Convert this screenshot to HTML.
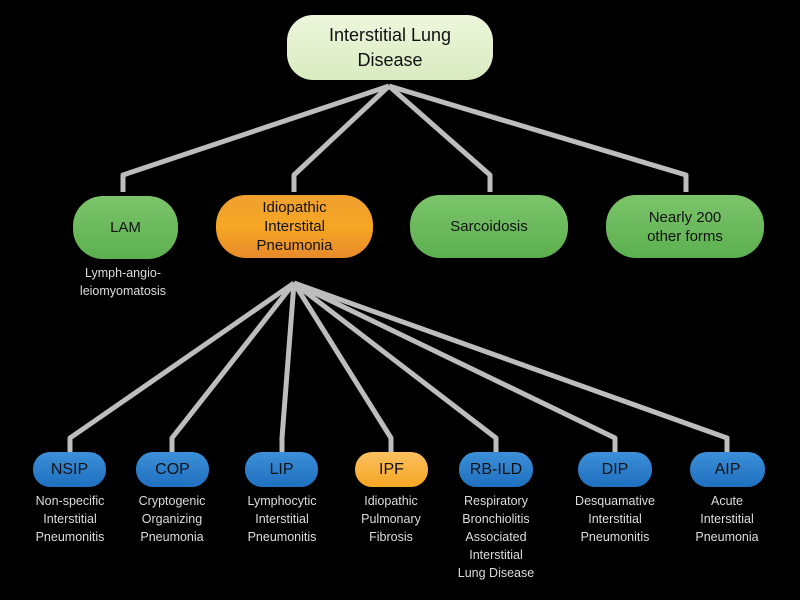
<!DOCTYPE html>
<html><head><style>
body{margin:0;background:#000;width:800px;height:600px;overflow:hidden;position:relative;font-family:"Liberation Sans",sans-serif}
.b{position:absolute;display:flex;align-items:center;justify-content:center;text-align:center;color:#111;box-sizing:border-box}
.g{background:linear-gradient(#7cc46a,#5cb050);border-radius:30px;font-size:15px;line-height:19px}
.bl{background:linear-gradient(#3c8fd8,#1f70c0);border-radius:17px;font-size:16px}
.t{position:absolute;color:#ddd;font-size:12.5px;line-height:18px;text-align:center;width:120px}
</style></head><body>
<svg width="800" height="600" style="position:absolute;left:0;top:0" fill="none" stroke="#bdbdbd" stroke-width="5" stroke-linejoin="round">
<polyline points="389,86 123,175 123,192"/>
<polyline points="389,86 294,175 294,192"/>
<polyline points="389,86 490,175 490,192"/>
<polyline points="389,86 686,175 686,192"/>
<polyline points="294,283 70,438 70,452"/>
<polyline points="294,283 172,438 172,452"/>
<polyline points="294,283 282,438 282,452"/>
<polyline points="294,283 391,438 391,452"/>
<polyline points="294,283 496,438 496,452"/>
<polyline points="294,283 615,438 615,452"/>
<polyline points="294,283 727,438 727,452"/>
</svg>
<div class="b" style="left:287px;top:15px;width:206px;height:65px;border-radius:26px;background:linear-gradient(#eef6dc,#d9ebc0);font-size:18px;line-height:25px">Interstitial Lung<br>Disease</div>
<div class="b g" style="left:73px;top:196px;width:105px;height:63px">LAM</div>
<div class="b" style="left:216px;top:195px;width:157px;height:63px;border-radius:30px;background:linear-gradient(#f0a030,#f5a623 50%,#e88a2a);font-size:15px;line-height:19px">Idiopathic<br>Interstital<br>Pneumonia</div>
<div class="b g" style="left:410px;top:195px;width:158px;height:63px">Sarcoidosis</div>
<div class="b g" style="left:606px;top:195px;width:158px;height:63px">Nearly 200<br>other forms</div>
<div class="t" style="left:63px;top:264px">Lymph-angio-<br>leiomyomatosis</div>
<div class="b bl" style="left:33px;top:452px;width:73px;height:35px">NSIP</div>
<div class="b bl" style="left:136px;top:452px;width:73px;height:35px">COP</div>
<div class="b bl" style="left:245px;top:452px;width:73px;height:35px">LIP</div>
<div class="b bl" style="left:355px;top:452px;width:73px;height:35px;background:linear-gradient(#fbc060,#f5a623)">IPF</div>
<div class="b bl" style="left:459px;top:452px;width:74px;height:35px">RB-ILD</div>
<div class="b bl" style="left:578px;top:452px;width:74px;height:35px">DIP</div>
<div class="b bl" style="left:690px;top:452px;width:75px;height:35px">AIP</div>
<div class="t" style="left:10px;top:492px">Non-specific<br>Interstitial<br>Pneumonitis</div>
<div class="t" style="left:112px;top:492px">Cryptogenic<br>Organizing<br>Pneumonia</div>
<div class="t" style="left:222px;top:492px">Lymphocytic<br>Interstitial<br>Pneumonitis</div>
<div class="t" style="left:331px;top:492px">Idiopathic<br>Pulmonary<br>Fibrosis</div>
<div class="t" style="left:436px;top:492px">Respiratory<br>Bronchiolitis<br>Associated<br>Interstitial<br>Lung Disease</div>
<div class="t" style="left:555px;top:492px">Desquamative<br>Interstitial<br>Pneumonitis</div>
<div class="t" style="left:667px;top:492px">Acute<br>Interstitial<br>Pneumonia</div>
</body></html>
